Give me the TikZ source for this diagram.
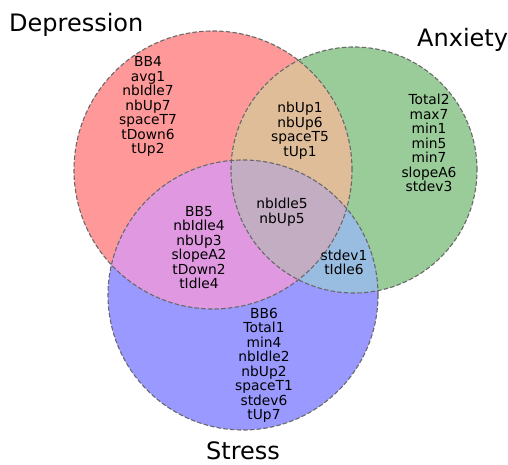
\documentclass[tikz,border=0pt]{standalone}
\usepackage{fontspec}
\setmainfont{DejaVu Sans}
\definecolor{cR}{RGB}{255,153,153}
\definecolor{cG}{RGB}{153,204,153}
\definecolor{cB}{RGB}{153,153,255}
\definecolor{cRG}{RGB}{224,189,153}
\definecolor{cRB}{RGB}{224,153,224}
\definecolor{cGB}{RGB}{153,189,224}
\definecolor{cRGB}{RGB}{194,173,194}
\definecolor{edge}{RGB}{105,105,105}
\begin{document}
\begin{tikzpicture}[x=1pt,y=1pt,
  rim/.style={draw=edge,line width=1.1pt,dash pattern=on 4.5pt off 2.2pt},
  items/.style={align=center,inner sep=0pt,font=\fontsize{13.8}{14.5}\selectfont},
  setname/.style={inner sep=0pt,font=\fontsize{24}{28}\selectfont}]
\useasboundingbox (0,0) rectangle (508,465);
\coordinate (cD) at (213,295);
\coordinate (cA) at (354,295);
\coordinate (cS) at (243,170);
\fill[cR] (cD) circle (139);
\fill[cG] (cA) circle (123);
\fill[cB] (cS) circle (135);
\begin{scope}
  \clip (cA) circle (123);
  \fill[cGB] (cS) circle (135);
\end{scope}
\begin{scope}
  \clip (cD) circle (139);
  \fill[cRG] (cA) circle (123);
  \fill[cRB] (cS) circle (135);
  \clip (cA) circle (123);
  \fill[cRGB] (cS) circle (135);
\end{scope}
\draw[rim] (cD) circle (139);
\draw[rim] (cA) circle (123);
\draw[rim] (cS) circle (135);
\node[items] (onlyD) at (148,358.5) {BB4\\avg1\\nbIdle7\\nbUp7\\spaceT7\\tDown6\\tUp2};
\node[items] (DA) at (300,334.5) {nbUp1\\nbUp6\\spaceT5\\tUp1};
\node[items] (onlyA) at (429,322) {Total2\\max7\\min1\\min5\\min7\\slopeA6\\stdev3};
\node[items] (DAS) at (282,253) {nbIdle5\\nbUp5};
\node[items] (DS) at (199,217.5) {BB5\\nbIdle4\\nbUp3\\slopeA2\\tDown2\\tIdle4};
\node[items] (AS) at (344,202.5) {stdev1\\tIdle6};
\node[items] (onlyS) at (264,99.5) {BB6\\Total1\\min4\\nbIdle2\\nbUp2\\spaceT1\\stdev6\\tUp7};
\node[setname,anchor=base west] (lD) at (9,433.3) {Depression};
\node[setname,anchor=base west] (lA) at (417,418.3) {Anxiety};
\node[setname,anchor=base] (lS) at (243,5) {Stress};
\end{tikzpicture}
\end{document}
